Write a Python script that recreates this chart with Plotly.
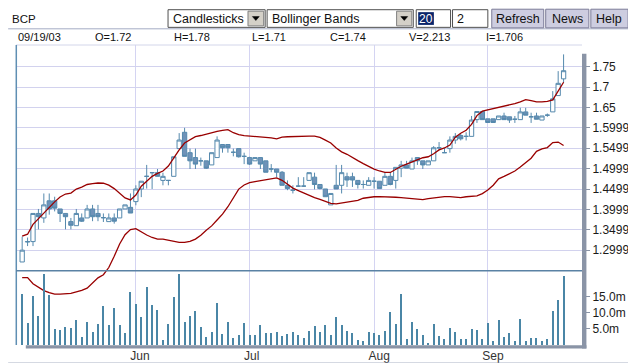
import pandas as pd
import plotly.graph_objects as go

# ---------------- data ----------------
dates = [d.strftime("%Y-%m-%d") for d in pd.bdate_range("2003-05-02", "2003-09-19")]

open_ = [1.271,1.320,1.321,1.390,1.379,1.421,1.421,1.401,1.390,1.370,
         1.360,1.379,1.379,1.401,1.390,1.379,1.370,1.379,1.379,1.401,
         1.405,1.419,1.450,1.481,1.490,1.490,1.471,1.471,1.481,1.549,
         1.589,1.539,1.527,1.519,1.519,1.509,1.527,1.559,1.559,1.540,
         1.549,1.530,1.527,1.519,1.527,1.519,1.499,1.499,1.491,1.459,
         1.447,1.457,1.457,1.471,1.479,1.461,1.450,1.411,1.459,1.459,
         1.480,1.480,1.471,1.461,1.459,1.469,1.469,1.459,1.481,1.471,
         1.501,1.509,1.499,1.527,1.519,1.509,1.519,1.551,1.539,1.549,
         1.570,1.581,1.579,1.579,1.620,1.640,1.622,1.622,1.620,1.629,
         1.627,1.621,1.620,1.639,1.627,1.629,1.619,1.631,1.639,1.679,
         1.72]
high = [1.333,1.331,1.390,1.401,1.439,1.439,1.431,1.401,1.390,1.379,
        1.401,1.390,1.411,1.411,1.411,1.390,1.390,1.390,1.401,1.411,
        1.439,1.459,1.469,1.509,1.490,1.499,1.490,1.471,1.529,1.587,
        1.600,1.549,1.549,1.527,1.519,1.539,1.579,1.559,1.559,1.549,
        1.549,1.539,1.529,1.527,1.527,1.519,1.511,1.499,1.494,1.471,
        1.459,1.479,1.479,1.490,1.490,1.461,1.450,1.439,1.509,1.509,
        1.490,1.490,1.471,1.471,1.479,1.479,1.469,1.491,1.491,1.503,
        1.519,1.519,1.527,1.527,1.519,1.519,1.555,1.565,1.551,1.579,
        1.587,1.585,1.589,1.629,1.641,1.640,1.622,1.622,1.629,1.637,
        1.627,1.629,1.649,1.649,1.637,1.637,1.629,1.635,1.690,1.739,
        1.78]
low = [1.271,1.310,1.310,1.351,1.367,1.387,1.395,1.369,1.351,1.351,
       1.360,1.369,1.379,1.371,1.371,1.369,1.370,1.365,1.379,1.401,
       1.391,1.410,1.430,1.451,1.450,1.481,1.459,1.459,1.481,1.549,
       1.530,1.499,1.499,1.507,1.499,1.509,1.527,1.539,1.539,1.530,
       1.527,1.511,1.509,1.519,1.499,1.491,1.491,1.479,1.459,1.447,
       1.439,1.455,1.455,1.471,1.449,1.449,1.431,1.411,1.450,1.439,
       1.455,1.455,1.451,1.451,1.459,1.451,1.451,1.459,1.459,1.451,
       1.479,1.501,1.499,1.509,1.499,1.509,1.519,1.545,1.539,1.539,
       1.561,1.569,1.569,1.579,1.612,1.620,1.612,1.613,1.620,1.620,
       1.612,1.612,1.620,1.631,1.612,1.621,1.619,1.627,1.639,1.679,
       1.71]
close = [1.300,1.321,1.390,1.382,1.411,1.401,1.403,1.390,1.382,1.361,
         1.390,1.371,1.401,1.382,1.382,1.380,1.379,1.371,1.401,1.411,
         1.391,1.450,1.469,1.481,1.490,1.481,1.481,1.471,1.529,1.570,
         1.530,1.519,1.511,1.519,1.501,1.539,1.570,1.551,1.551,1.540,
         1.529,1.530,1.511,1.527,1.511,1.491,1.499,1.491,1.459,1.451,
         1.447,1.457,1.457,1.490,1.461,1.451,1.431,1.439,1.450,1.490,
         1.472,1.472,1.461,1.461,1.471,1.469,1.451,1.481,1.461,1.503,
         1.509,1.501,1.519,1.519,1.509,1.519,1.551,1.551,1.539,1.570,
         1.579,1.573,1.579,1.619,1.640,1.620,1.613,1.613,1.629,1.620,
         1.619,1.621,1.639,1.631,1.627,1.621,1.629,1.631,1.671,1.709,
         1.74]
volume_m = [16.0,6.8,15.2,9.0,22.1,15.6,5.0,4.7,5.6,5.3,
            7.7,2.5,7.1,4.1,6.5,12.1,6.2,11.4,6.2,3.8,
            16.6,12.7,8.7,18.1,12.4,10.8,1.6,6.5,15.1,22.1,
            7.1,9.0,10.5,5.6,2.5,4.1,13.2,3.5,7.1,2.2,
            3.1,6.8,3.1,3.1,6.2,3.8,3.8,4.1,2.8,3.5,
            4.1,3.1,2.2,4.4,5.9,4.1,6.3,3.2,8.7,6.3,
            4.4,3.8,1.6,1.3,4.1,3.8,3.1,4.4,10.2,6.5,
            16.0,1.9,7.1,5.0,3.1,0.7,6.5,2.8,1.9,5.3,
            4.1,1.9,1.9,5.0,4.7,1.9,6.8,1.3,7.7,2.5,
            3.8,1.3,8.0,1.3,2.2,2.2,1.3,1.9,10.5,14.2,
            21.4]
upper_band = [1.3343,1.3391,1.3631,1.3775,1.3920,1.4064,1.4184,1.4304,1.4376,1.4400,
              1.4497,1.4545,1.4610,1.4631,1.4646,1.4641,1.4593,1.4509,1.4388,1.4280,
              1.4232,1.4352,1.4569,1.4689,1.4809,1.4881,1.4941,1.5061,1.5266,1.5458,
              1.5626,1.5715,1.5783,1.5811,1.5852,1.5891,1.5915,1.5939,1.5956,1.5879,
              1.5831,1.5809,1.5799,1.5792,1.5785,1.5775,1.5751,1.5730,1.5771,1.5780,
              1.5787,1.5795,1.5795,1.5795,1.5795,1.5763,1.5698,1.5626,1.5506,1.5410,
              1.5350,1.5266,1.5194,1.5122,1.5049,1.4989,1.4941,1.4905,1.4905,1.4989,
              1.5057,1.5110,1.5158,1.5206,1.5266,1.5290,1.5362,1.5458,1.5506,1.5578,
              1.5771,1.5867,1.5939,1.6083,1.6299,1.6408,1.6439,1.6463,1.6487,1.6528,
              1.6564,1.6593,1.6636,1.6689,1.6667,1.6634,1.6636,1.6648,1.6684,1.6900,
              1.7117]
lower_band = [1.2326,1.2326,1.2177,1.2102,1.2009,1.1961,1.1924,1.1924,1.1924,1.1941,
              1.1977,1.2013,1.2069,1.2201,1.2321,1.2398,1.2574,1.2850,1.3150,1.3379,
              1.3506,1.3528,1.3444,1.3372,1.3311,1.3271,1.3271,1.3247,1.3211,1.3191,
              1.3191,1.3215,1.3271,1.3367,1.3487,1.3595,1.3739,1.3884,1.4064,1.4280,
              1.4497,1.4598,1.4653,1.4682,1.4701,1.4723,1.4744,1.4773,1.4713,1.4612,
              1.4521,1.4461,1.4400,1.4333,1.4287,1.4244,1.4196,1.4146,1.4136,1.4160,
              1.4172,1.4191,1.4220,1.4273,1.4292,1.4309,1.4311,1.4311,1.4309,1.4297,
              1.4287,1.4273,1.4256,1.4244,1.4241,1.4266,1.4285,1.4309,1.4311,1.4311,
              1.4297,1.4290,1.4309,1.4323,1.4333,1.4388,1.4473,1.4593,1.4749,1.4809,
              1.4874,1.4941,1.5037,1.5134,1.5254,1.5422,1.5482,1.5516,1.5638,1.5650,
              1.5566]

month_ticks = ["2003-06-02", "2003-07-01", "2003-08-01", "2003-09-01"]
month_labels = ["Jun", "Jul", "Aug", "Sep"]
price_ticks = [1.2999, 1.3499, 1.3999, 1.4499, 1.4999, 1.5499, 1.5999, 1.65, 1.7, 1.75]
price_labels = ["1.2999", "1.3499", "1.3999", "1.4499", "1.4999", "1.5499", "1.59999", "1.65", "1.7", "1.75"]
vol_ticks = [5, 10, 15]
vol_labels = ["5.0m", "10.0m", "15.0m"]

header_fields = ["09/19/03", "O=1.72", "H=1.78", "L=1.71", "C=1.74", "V=2.213", "I=1.706"]

# ---------------- layout geometry (pixels) ----------------
WIDTH, HEIGHT = 636, 363
ML, MR, MT, MB = 8, 51, 37, 20
PW, PH = WIDTH - ML - MR, HEIGHT - MT - MB
FONT = "Arial, Liberation Sans, sans-serif"


def PX(x):
    return (x - ML) / PW


def PY(y):
    return (MT + PH - y) / PH


CANDLE = "#5589ad"
BAND = "#990000"

fig = go.Figure()
fig.add_trace(go.Candlestick(
    x=dates, open=open_, high=high, low=low, close=close,
    increasing=dict(line=dict(color=CANDLE, width=1), fillcolor="white"),
    decreasing=dict(line=dict(color=CANDLE, width=1), fillcolor="#6f92b8"),
    whiskerwidth=0, showlegend=False, hoverinfo="skip",
))
fig.add_trace(go.Scatter(x=dates, y=upper_band, mode="lines",
                         line=dict(color=BAND, width=1.3), showlegend=False, hoverinfo="skip"))
fig.add_trace(go.Scatter(x=dates, y=lower_band, mode="lines",
                         line=dict(color=BAND, width=1.3), showlegend=False, hoverinfo="skip"))
fig.add_trace(go.Bar(x=dates, y=volume_m, yaxis="y2", width=0.2,
                     marker=dict(color="#4a86a6", line=dict(width=0)),
                     showlegend=False, hoverinfo="skip"))

price_lo = 1.2999 - (MT + PH - 246.3) * 0.0024038
price_hi = 1.2999 + (246.3 - MT) * 0.0024038
vol_hi = PH / 3.267

fig.update_layout(
    width=WIDTH, height=HEIGHT, autosize=False,
    margin=dict(l=ML, r=MR, t=MT, b=MB, pad=0),
    paper_bgcolor="white", plot_bgcolor="white",
    font=dict(family=FONT, size=12, color="#1a1a1a"),
    bargap=0, boxgap=0.1, boxgroupgap=0.12,
    xaxis=dict(
        type="category", range=[-1.14, 103.4], rangeslider=dict(visible=False),
        tickmode="array", tickvals=month_ticks, ticktext=month_labels,
        ticklabelposition="outside right", ticklabelshift=-6, ticks="outside", ticklen=5,
        tickcolor="rgba(0,0,0,0)", tickfont=dict(size=12, color="#333333"),
        showgrid=True, gridcolor="#d4d4f2", gridwidth=1,
        showline=False, zeroline=False, fixedrange=True,
    ),
    yaxis=dict(
        side="right", range=[price_lo, price_hi],
        tickmode="array", tickvals=price_ticks, ticktext=price_labels,
        ticks="outside", ticklen=7, tickcolor="#8a94a6",
        tickfont=dict(size=12, color="#1a1a1a"),
        showgrid=True, gridcolor="#d2d2ee", gridwidth=1,
        showline=False, zeroline=False, fixedrange=True,
    ),
    yaxis2=dict(
        overlaying="y", side="right", range=[0, vol_hi],
        tickmode="array", tickvals=vol_ticks, ticktext=vol_labels,
        ticks="outside", ticklen=7, tickcolor="#8a94a6",
        tickfont=dict(size=12, color="#1a1a1a"),
        showgrid=False, showline=False, zeroline=False, fixedrange=True,
    ),
)

shapes = []


def line(x0, y0, x1, y1, color, w=1, layer="above"):
    shapes.append(dict(type="line", xref="paper", yref="paper",
                       x0=PX(x0), y0=PY(y0), x1=PX(x1), y1=PY(y1),
                       line=dict(color=color, width=w), layer=layer))


def rect(x0, y0, x1, y1, fill, color=None, w=1, layer="above"):
    shapes.append(dict(type="rect", xref="paper", yref="paper",
                       x0=PX(x0), y0=PY(y0), x1=PX(x1), y1=PY(y1),
                       fillcolor=fill, line=dict(color=color or fill, width=w if color else 0),
                       layer=layer))


def tri(cx, cy):
    p = "M {},{} L {},{} L {},{} Z".format(PX(cx - 3.5), PY(cy - 2), PX(cx + 3.5), PY(cy - 2), PX(cx), PY(cy + 2))
    shapes.append(dict(type="path", xref="paper", yref="paper", path=p,
                       fillcolor="black", line=dict(color="black", width=0.5), layer="above"))


# frame
line(0, 20.5, 636, 20.5, "#a3abc4")
line(632.5, 20.5, 632.5, 361.5, "#8f9ab2")
line(0, 361.5, 632.5, 361.5, "#8f9ab2")
line(8, 37, 585, 37, "#d3d6ea")
# plot borders
line(8.3, 37, 8.3, 343, "#5f8fb3", 1.5)
line(8, 267.3, 585, 267.3, "#5a82a4", 1.5)
rect(585, 46, 589.5, 346.5, "#8a94a6")
rect(18, 343.3, 589.5, 346.5, "#8a94a6")

# toolbar controls
rect(163, 1, 262, 19, "white", "#505050")
rect(244.5, 2.5, 260.5, 17.5, "#d4d0c8", "#808080")
tri(252.5, 10)
rect(264, 1, 413, 19, "white", "#505050")
rect(396, 2.5, 411.5, 17.5, "#d4d0c8", "#808080")
tri(403.8, 10)
rect(416, 1, 451, 19, "white", "#505050")
rect(418, 3.5, 434, 16.5, "#0a246a")
rect(453, 1, 489, 19, "white", "#505050")
for x0, x1 in [(493, 546), (548, 592), (594, 632)]:
    rect(x0, 0.5, x1, 19.5, "#cdcde0", "#7c7c98")

fig.update_layout(shapes=shapes)

ann = []


def text(x, y, s, size=12.5, color="#111111", anchor="left"):
    ann.append(dict(xref="paper", yref="paper", x=PX(x), y=PY(y), text=s, showarrow=False,
                    xanchor=anchor, yanchor="middle", font=dict(family=FONT, size=size, color=color)))


text(2, 10, "BCP", 11.5)
text(166, 10.5, "Candlesticks")
text(266.5, 10.5, "Bollinger Bands")
text(426, 10.5, "20", 12, "white", anchor="center")
text(456, 10.5, "2")
text(519.5, 10.5, "Refresh", anchor="center")
text(570, 10.5, "News", anchor="center")
text(613, 10.5, "Help", anchor="center")
for xpos, s in zip([8, 87, 167, 247, 326, 407, 485], header_fields):
    text(xpos, 28.5, s, 11)

fig.update_layout(annotations=ann)

fig.write_html("out.html", config={"displayModeBar": False})
